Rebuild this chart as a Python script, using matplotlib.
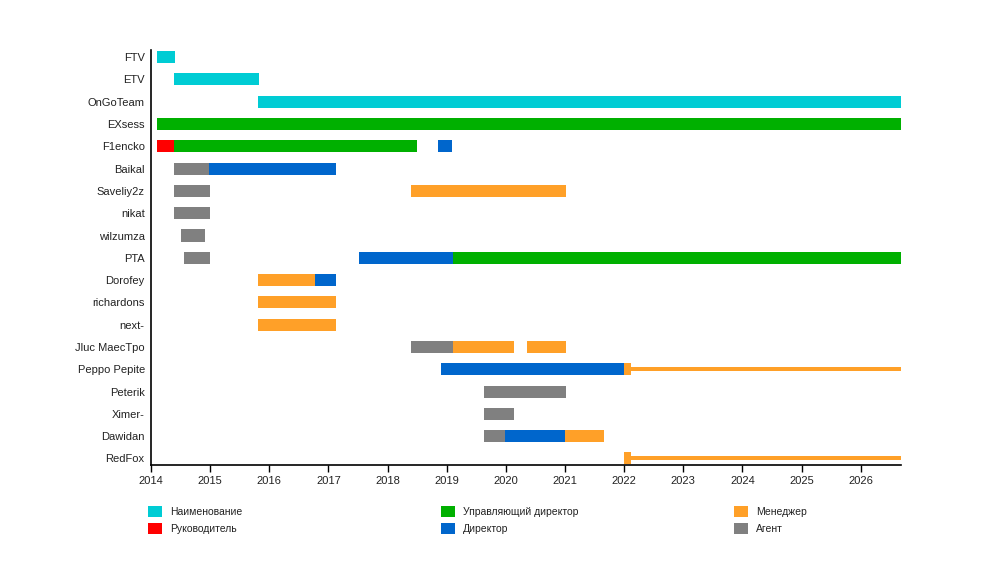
import matplotlib
matplotlib.use("Agg")
import matplotlib.pyplot as plt
from matplotlib.patches import Patch

plt.rcParams['font.family'] = ['Liberation Sans', 'DejaVu Sans']

# rows, top to bottom
names = ['FTV', 'ETV', 'OnGoTeam', 'EXsess', 'F1encko', 'Baikal', 'Saveliy2z', 'nikat',
         'wilzumza', 'PTA', 'Dorofey', 'richardons', 'next-', 'Jluc MaecTpo',
         'Peppo Pepite', 'Peterik', 'Ximer-', 'Dawidan', 'RedFox']

END = 2026.7

# thick segments: row, start, end, role
seg_name = ['FTV', 'ETV', 'OnGoTeam', 'EXsess',
            'F1encko', 'F1encko', 'F1encko',
            'Baikal', 'Baikal',
            'Saveliy2z', 'Saveliy2z',
            'nikat', 'wilzumza',
            'PTA', 'PTA', 'PTA',
            'Dorofey', 'Dorofey', 'richardons', 'next-',
            'Jluc MaecTpo', 'Jluc MaecTpo', 'Jluc MaecTpo',
            'Peppo Pepite', 'Peppo Pepite',
            'Peterik', 'Ximer-',
            'Dawidan', 'Dawidan', 'Dawidan',
            'RedFox']
seg_start = [2014.10, 2014.39, 2015.81, 2014.10,
             2014.10, 2014.39, 2018.85,
             2014.39, 2014.98,
             2014.39, 2018.39,
             2014.39, 2014.51,
             2014.56, 2017.52, 2019.10,
             2015.81, 2016.77, 2015.81, 2015.81,
             2018.39, 2019.10, 2020.35,
             2018.90, 2021.99,
             2019.63, 2019.63,
             2019.63, 2019.98, 2021.00,
             2021.99]
seg_end = [2014.41, 2015.83, END, END,
           2014.39, 2018.50, 2019.09,
           2014.98, 2017.13,
           2015.00, 2021.01,
           2015.00, 2014.91,
           2015.00, 2019.10, END,
           2016.77, 2017.13, 2017.13, 2017.13,
           2019.10, 2020.13, 2021.01,
           2021.99, 2022.12,
           2021.01, 2020.13,
           2019.98, 2021.00, 2021.66,
           2022.12]
seg_role = ['name', 'name', 'name', 'md',
            'head', 'md', 'dir',
            'agent', 'dir',
            'agent', 'mgr',
            'agent', 'agent',
            'agent', 'dir', 'md',
            'mgr', 'dir', 'mgr', 'mgr',
            'agent', 'mgr', 'mgr',
            'dir', 'mgr',
            'agent', 'agent',
            'agent', 'dir', 'mgr',
            'mgr']

# thin continuing segments
thin_name = ['Peppo Pepite', 'RedFox']
thin_start = [2022.12, 2022.12]
thin_end = [END, END]
thin_role = ['mgr', 'mgr']

role_labels = {'name': 'Наименование', 'head': 'Руководитель',
               'md': 'Управляющий директор', 'dir': 'Директор',
               'mgr': 'Менеджер', 'agent': 'Агент'}
colors = {'name': '#00CCD4', 'head': '#FF0000', 'md': '#00B000',
          'dir': '#0066CC', 'mgr': '#FFA028', 'agent': '#808080'}

fig = plt.figure(figsize=(10, 5.74), dpi=100)
ax = fig.add_axes([0.151, 0.19, 0.75, 0.7229])

ypos = {n: len(names) - 1 - i for i, n in enumerate(names)}

for n, s, e, r in zip(seg_name, seg_start, seg_end, seg_role):
    ax.barh(ypos[n], e - s, left=s, height=0.54, color=colors[r], linewidth=0)
for n, s, e, r in zip(thin_name, thin_start, thin_end, thin_role):
    ax.barh(ypos[n], e - s, left=s, height=0.18, color=colors[r], linewidth=0)

ax.set_xlim(2014, 2026.68)
ax.set_ylim(-0.29, len(names) - 1 + 0.32)
ax.set_xticks(range(2014, 2027))
ax.set_xticklabels([str(y) for y in range(2014, 2027)])
ax.set_yticks([ypos[n] for n in names])
ax.set_yticklabels(names)

for side in ['top', 'right']:
    ax.spines[side].set_visible(False)
ax.spines['left'].set_linewidth(1.2)
ax.spines['bottom'].set_linewidth(1.2)
ax.tick_params(axis='y', length=0, pad=4.5, labelsize=8, labelcolor='#222222')
ax.tick_params(axis='x', length=5, width=1, pad=3, labelsize=8, labelcolor='#222222')

# legend: three columns of two
groups = [['name', 'head'], ['md', 'dir'], ['mgr', 'agent']]
xs = [0.148, 0.441, 0.734]
for g, x in zip(groups, xs):
    handles = [Patch(facecolor=colors[r], edgecolor='none', label=role_labels[r]) for r in g]
    leg = fig.legend(handles=handles, loc='upper left', bbox_to_anchor=(x, 0.1185),
                     frameon=False, fontsize=7.5, handlelength=1.3, handleheight=1.3,
                     handletextpad=0.8, labelspacing=0.5, borderaxespad=0, borderpad=0)
    for t in leg.get_texts():
        t.set_color('#222222')

fig.savefig('out.png', dpi=100)
